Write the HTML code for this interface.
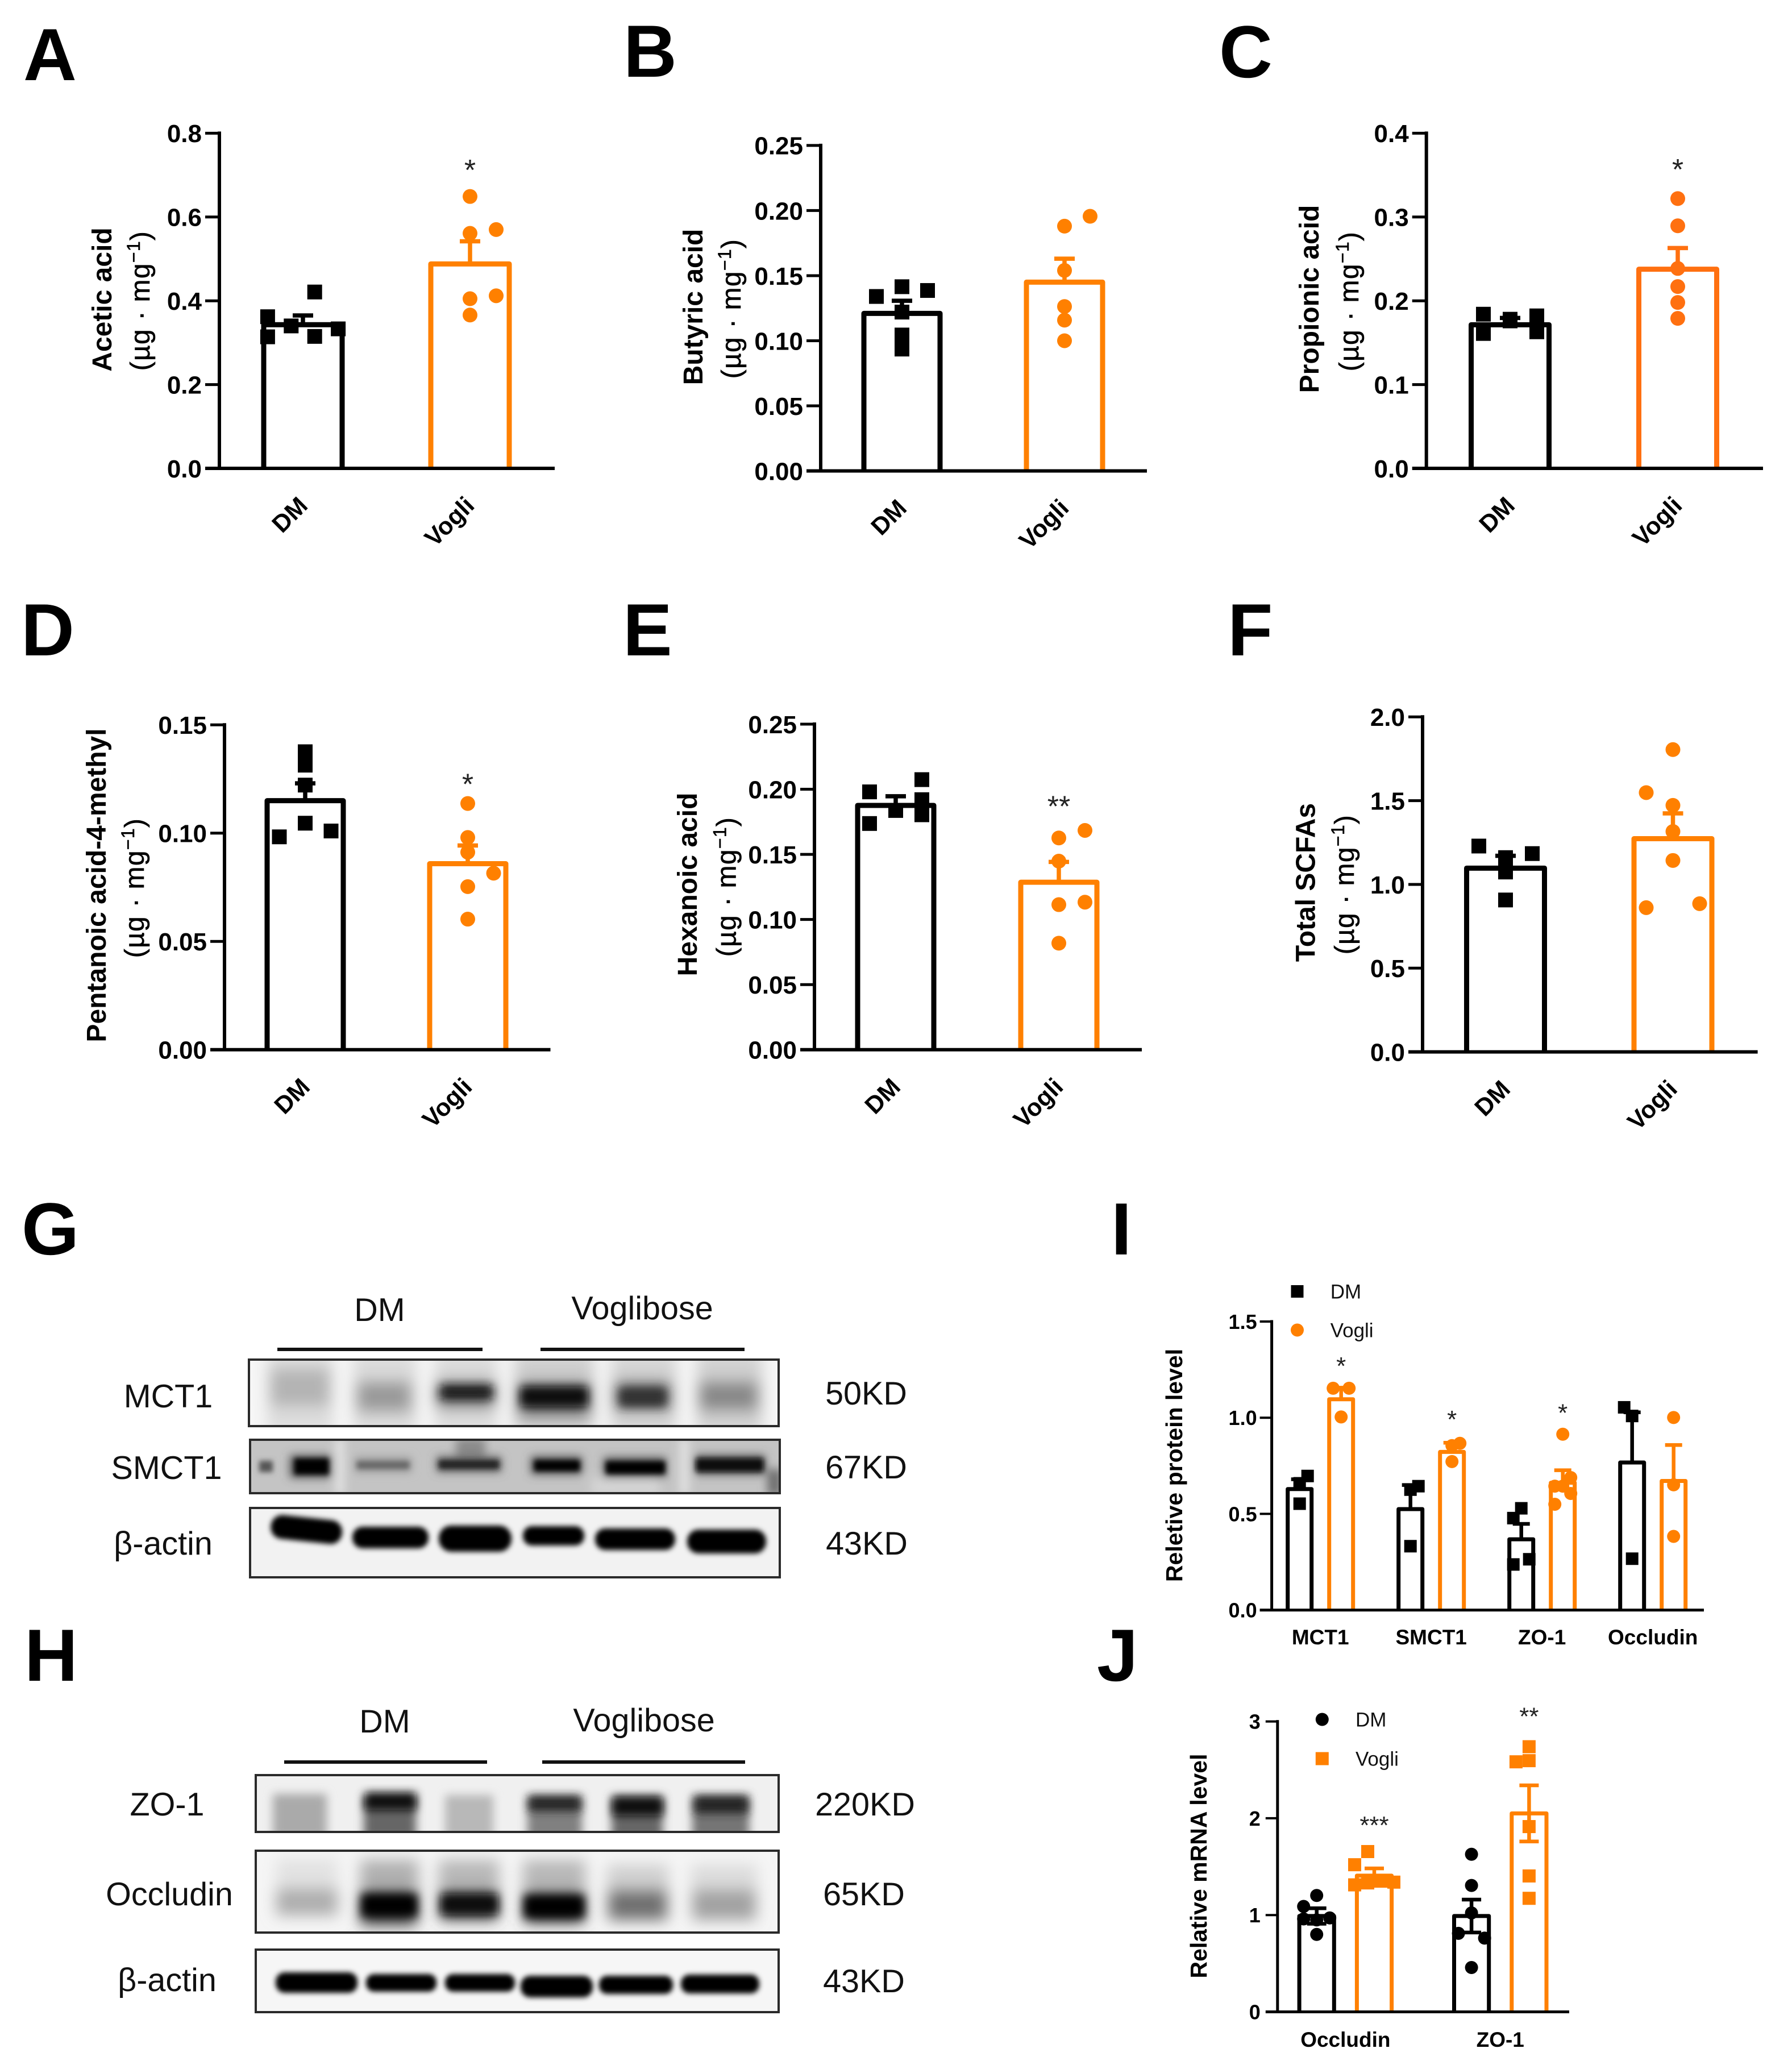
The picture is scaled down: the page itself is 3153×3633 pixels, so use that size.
<!DOCTYPE html>
<html lang="en">
<head>
<meta charset="utf-8">
<title>SCFA bar charts and western blots</title>
<style>
html,body{margin:0;padding:0;background:#fff;}
svg{display:block;font-family:"Liberation Sans",Arial,sans-serif;}
.letter{font-size:130px;font-weight:700;fill:#000;}
.wb{font-size:57.5px;fill:#111;}
</style>
</head>
<body>
<svg id="figure" xmlns="http://www.w3.org/2000/svg" width="3153" height="3633" viewBox="0 0 3153 3633">
<defs>
<filter id="b4" x="-15%" y="-40%" width="130%" height="180%"><feGaussianBlur stdDeviation="4.5"/></filter>
<filter id="b7" x="-15%" y="-40%" width="130%" height="180%"><feGaussianBlur stdDeviation="8"/></filter>
<filter id="b12" x="-15%" y="-40%" width="130%" height="180%"><feGaussianBlur stdDeviation="13"/></filter>
<clipPath id="c1"><rect x="438" y="2392" width="932" height="117"/></clipPath>
<clipPath id="c2"><rect x="440" y="2533" width="932" height="94"/></clipPath>
<clipPath id="c3"><rect x="440" y="2653" width="932" height="122"/></clipPath>
<clipPath id="c4"><rect x="450" y="3123" width="920" height="100"/></clipPath>
<clipPath id="c5"><rect x="450" y="3256" width="920" height="144"/></clipPath>
<clipPath id="c6"><rect x="450" y="3430" width="920" height="110"/></clipPath>
</defs>
<rect width="3153" height="3633" fill="#fff"/>

<g>
<text class="letter" x="41" y="141">A</text>
<text class="letter" x="1097" y="135">B</text>
<text class="letter" x="2145" y="136">C</text>
<text class="letter" x="37" y="1153">D</text>
<text class="letter" x="1096" y="1153">E</text>
<text class="letter" x="2160" y="1153">F</text>
<text class="letter" x="38" y="2207">G</text>
<text class="letter" x="43" y="2957">H</text>
<text class="letter" x="1955" y="2207">I</text>
<text class="letter" x="1930" y="2957">J</text>
</g>

<g>
<text class="wb" x="668" y="2324" text-anchor="middle">DM</text>
<text class="wb" x="1130" y="2321" text-anchor="middle">Voglibose</text>
<rect x="488" y="2371" width="361" height="6" fill="#111"/>
<rect x="951" y="2371" width="359" height="6" fill="#111"/>
<text class="wb" x="296" y="2476" text-anchor="middle">MCT1</text>
<text class="wb" x="293" y="2602" text-anchor="middle">SMCT1</text>
<text class="wb" x="287" y="2735" text-anchor="middle">β-actin</text>
<text class="wb" x="1524" y="2471" text-anchor="middle">50KD</text>
<text class="wb" x="1524" y="2601" text-anchor="middle">67KD</text>
<text class="wb" x="1525" y="2735" text-anchor="middle">43KD</text>

<g>
<rect x="438" y="2392" width="932" height="117" fill="#f6f6f6"/>
<g clip-path="url(#c1)"><g filter="url(#b12)">
<rect x="470" y="2380" width="116" height="140" fill="#dcdcdc"/>
<rect x="622" y="2380" width="110" height="140" fill="#dadada"/>
<rect x="765" y="2380" width="110" height="140" fill="#dadada"/>
<rect x="905" y="2380" width="140" height="140" fill="#cecece"/>
<rect x="1075" y="2380" width="115" height="140" fill="#d4d4d4"/>
<rect x="1226" y="2380" width="115" height="140" fill="#d0d0d0"/>
<rect x="476" y="2408" width="104" height="66" fill="#b4b4b4"/>
<rect x="628" y="2430" width="96" height="54" fill="#9a9a9a"/>
<rect x="1230" y="2430" width="104" height="52" fill="#888"/>
<rect x="768" y="2430" width="102" height="46" fill="#5c5c5c"/>
<rect x="912" y="2432" width="126" height="60" fill="#555"/>
<rect x="1082" y="2430" width="98" height="52" fill="#606060"/>
</g><g filter="url(#b7)">
<rect x="776" y="2438" width="90" height="22" fill="#141414"/>
<rect x="916" y="2440" width="118" height="34" fill="#0e0e0e"/>
<rect x="1090" y="2442" width="82" height="32" fill="#333"/>
</g></g>
<rect x="438" y="2392" width="932" height="117" fill="none" stroke="#2a2a2a" stroke-width="4"/>
</g>

<g>
<rect x="440" y="2533" width="932" height="94" fill="#c4c4c4"/>
<g clip-path="url(#c2)"><g filter="url(#b7)">
<rect x="590" y="2530" width="16" height="100" fill="#e2e2e2"/>
<rect x="1196" y="2530" width="16" height="100" fill="#e2e2e2"/>
<rect x="1040" y="2600" width="120" height="30" fill="#d4d4d4"/>
<rect x="802" y="2530" width="52" height="44" fill="#8a8a8a"/>
<rect x="1350" y="2585" width="26" height="46" fill="#707070"/>
<rect x="510" y="2560" width="74" height="40" fill="#555"/>
<rect x="624" y="2564" width="100" height="26" fill="#9a9a9a"/>
<rect x="768" y="2562" width="114" height="28" fill="#666"/>
<rect x="934" y="2562" width="90" height="32" fill="#555"/>
<rect x="1062" y="2564" width="110" height="36" fill="#555"/>
<rect x="1222" y="2560" width="124" height="34" fill="#555"/>
</g><g filter="url(#b4)">
<rect x="456" y="2570" width="24" height="20" fill="#555"/>
<rect x="518" y="2566" width="60" height="28" fill="#050505"/>
<rect x="628" y="2571" width="92" height="13" fill="#666"/>
<rect x="772" y="2569" width="106" height="15" fill="#222"/>
<rect x="940" y="2569" width="80" height="19" fill="#050505"/>
<rect x="1066" y="2571" width="104" height="22" fill="#050505"/>
<rect x="1225" y="2566" width="118" height="23" fill="#0c0c0c"/>
</g></g>
<rect x="440" y="2533" width="932" height="94" fill="none" stroke="#2a2a2a" stroke-width="4"/>
</g>

<g>
<rect x="440" y="2653" width="932" height="122" fill="#f2f2f2"/>
<g clip-path="url(#c3)"><g filter="url(#b4)">
<rect x="476" y="2670" width="126" height="42" rx="20" fill="#000" transform="rotate(6 540 2693)"/>
<rect x="620" y="2686" width="134" height="38" rx="18" fill="#050505"/>
<rect x="772" y="2684" width="128" height="46" rx="22" fill="#000"/>
<rect x="920" y="2685" width="108" height="34" rx="16" fill="#050505"/>
<rect x="1047" y="2689" width="141" height="38" rx="18" fill="#000"/>
<rect x="1209" y="2691" width="139" height="42" rx="20" fill="#000"/>
</g></g>
<rect x="440" y="2653" width="932" height="122" fill="none" stroke="#2a2a2a" stroke-width="4"/>
</g>
</g>

<g>
<text class="wb" x="677" y="3048" text-anchor="middle">DM</text>
<text class="wb" x="1133" y="3046" text-anchor="middle">Voglibose</text>
<rect x="500" y="3097" width="357" height="6" fill="#111"/>
<rect x="954" y="3097" width="357" height="6" fill="#111"/>
<text class="wb" x="294" y="3194" text-anchor="middle">ZO-1</text>
<text class="wb" x="298" y="3352" text-anchor="middle">Occludin</text>
<text class="wb" x="294" y="3503" text-anchor="middle">β-actin</text>
<text class="wb" x="1522" y="3194" text-anchor="middle">220KD</text>
<text class="wb" x="1520" y="3352" text-anchor="middle">65KD</text>
<text class="wb" x="1520" y="3505" text-anchor="middle">43KD</text>

<g>
<rect x="450" y="3123" width="920" height="100" fill="#f0f0f0"/>
<g clip-path="url(#c4)"><g filter="url(#b7)">
<rect x="480" y="3156" width="95" height="80" fill="#aaa"/>
<rect x="640" y="3160" width="92" height="76" fill="#666"/>
<rect x="783" y="3158" width="85" height="78" fill="#b8b8b8"/>
<rect x="928" y="3160" width="96" height="76" fill="#808080"/>
<rect x="1076" y="3160" width="90" height="76" fill="#666"/>
<rect x="1218" y="3160" width="100" height="76" fill="#757575"/>
</g><g filter="url(#b7)">
<rect x="642" y="3154" width="90" height="30" fill="#111"/>
<rect x="930" y="3160" width="92" height="26" fill="#222"/>
<rect x="1078" y="3162" width="88" height="32" fill="#0a0a0a"/>
<rect x="1222" y="3160" width="94" height="30" fill="#222"/>
</g></g>
<rect x="450" y="3123" width="920" height="100" fill="none" stroke="#2a2a2a" stroke-width="4"/>
</g>

<g>
<rect x="450" y="3256" width="920" height="144" fill="#f5f5f5"/>
<g clip-path="url(#c5)"><g filter="url(#b12)">
<rect x="486" y="3270" width="108" height="70" fill="#e2e2e2"/>
<rect x="634" y="3272" width="102" height="70" fill="#b0b0b0"/>
<rect x="772" y="3272" width="106" height="70" fill="#b8b8b8"/>
<rect x="920" y="3272" width="110" height="70" fill="#b8b8b8"/>
<rect x="1068" y="3280" width="108" height="70" fill="#d0d0d0"/>
<rect x="1216" y="3280" width="116" height="70" fill="#dcdcdc"/>
<rect x="486" y="3322" width="108" height="48" fill="#aeaeae"/>
<rect x="1070" y="3324" width="104" height="54" fill="#707070"/>
<rect x="1218" y="3324" width="112" height="54" fill="#a2a2a2"/>
<rect x="634" y="3326" width="100" height="62" fill="#444"/>
<rect x="774" y="3326" width="102" height="52" fill="#444"/>
<rect x="922" y="3328" width="106" height="56" fill="#444"/>
</g><g filter="url(#b7)">
<rect x="636" y="3332" width="98" height="40" fill="#050505"/>
<rect x="776" y="3332" width="100" height="36" fill="#080808"/>
<rect x="922" y="3334" width="106" height="40" fill="#000"/>
</g></g>
<rect x="450" y="3256" width="920" height="144" fill="none" stroke="#2a2a2a" stroke-width="4"/>
</g>

<g>
<rect x="450" y="3430" width="920" height="110" fill="#f6f6f6"/>
<g clip-path="url(#c6)"><g filter="url(#b4)">
<rect x="485" y="3470" width="144" height="36" rx="16" fill="#000"/>
<rect x="644" y="3473" width="124" height="31" rx="14" fill="#050505"/>
<rect x="783" y="3473" width="123" height="31" rx="14" fill="#050505"/>
<rect x="916" y="3476" width="127" height="38" rx="17" fill="#000"/>
<rect x="1054" y="3476" width="130" height="32" rx="14" fill="#000"/>
<rect x="1198" y="3474" width="138" height="33" rx="15" fill="#000"/>
</g></g>
<rect x="450" y="3430" width="920" height="110" fill="none" stroke="#2a2a2a" stroke-width="4"/>
</g>
</g>

<g id="charts"></g>
</svg>

<script>
// ---------- shared categories ----------
const scfaGroups = ['DM', 'Vogli'];
const blotSeries = ['DM', 'Vogli'];

// ---------- panel A: acetic acid ----------
const aceticTicks = ['0.0', '0.2', '0.4', '0.6', '0.8'];
const aceticMeans = [0.343, 0.488];
const aceticSems = [0.022, 0.054];
const aceticDm = [0.362, 0.314, 0.340, 0.421, 0.315, 0.333];
const aceticDmSlots = [-1.35, -1.35, -0.45, 0.45, 0.45, 1.35];
const aceticVogli = [0.649, 0.561, 0.570, 0.405, 0.412, 0.366];
const aceticVogliSlots = [0, 0, 1, 0, 1, 0];
const aceticStars = ['', '*'];
const aceticStarLevels = [0, 0.723];

// ---------- panel B: butyric acid ----------
const butyricTicks = ['0.00', '0.05', '0.10', '0.15', '0.20', '0.25'];
const butyricMeans = [0.121, 0.145];
const butyricSems = [0.0097, 0.018];
const butyricDm = [0.134, 0.1415, 0.1386, 0.122, 0.1044, 0.0936];
const butyricDmSlots = [-1, 0, 1, 0, 0, 0];
const butyricVogli = [0.188, 0.1956, 0.154, 0.1263, 0.1158, 0.100];
const butyricVogliSlots = [0, 1, 0, 0, 0, 0];
const butyricStars = ['', ''];
const butyricStarLevels = [0, 0];

// ---------- panel C: propionic acid ----------
const propionicTicks = ['0.0', '0.1', '0.2', '0.3', '0.4'];
const propionicMeans = [0.1714, 0.2377];
const propionicSems = [0.0081, 0.0253];
const propionicDm = [0.184, 0.161, 0.176, 0.178, 0.182, 0.163];
const propionicDmSlots = [-1, -1, 0, 0, 1, 1];
const propionicVogli = [0.322, 0.2895, 0.2386, 0.217, 0.198, 0.179];
const propionicVogliSlots = [0, 0, 0, 0, 0, 0];
const propionicStars = ['', '*'];
const propionicStarLevels = [0, 0.362];

// ---------- panel D: pentanoic acid-4-methyl ----------
const pentanoicTicks = ['0.00', '0.05', '0.10', '0.15'];
const pentanoicMeans = [0.115, 0.0859];
const pentanoicSems = [0.008, 0.0084];
const pentanoicDm = [0.1376, 0.1314, 0.1222, 0.0983, 0.1046, 0.101];
const pentanoicDmSlots = [0, 0, 0, -1, 0, 1];
const pentanoicVogli = [0.1137, 0.098, 0.0912, 0.0815, 0.0753, 0.0603];
const pentanoicVogliSlots = [0, 0, 0, 1, 0, 0];
const pentanoicStars = ['', '*'];
const pentanoicStarLevels = [0, 0.1247];

// ---------- panel E: hexanoic acid ----------
const hexanoicTicks = ['0.00', '0.05', '0.10', '0.15', '0.20', '0.25'];
const hexanoicMeans = [0.1876, 0.1286];
const hexanoicSems = [0.007, 0.0156];
const hexanoicDm = [0.198, 0.1737, 0.1837, 0.2074, 0.192, 0.1804];
const hexanoicDmSlots = [-1, -1, 0, 1, 1, 1];
const hexanoicVogli = [0.1626, 0.1684, 0.1448, 0.1114, 0.1133, 0.0818];
const hexanoicVogliSlots = [0, 1, 0, 0, 1, 0];
const hexanoicStars = ['', '**'];
const hexanoicStarLevels = [0, 0.1902];

// ---------- panel F: total SCFAs ----------
const totalTicks = ['0.0', '0.5', '1.0', '1.5', '2.0'];
const totalMeans = [1.097, 1.273];
const totalSems = [0.074, 0.151];
const totalDm = [1.229, 1.16, 1.184, 1.128, 1.074, 0.907];
const totalDmSlots = [-1, 0, 1, 0, 0, 0];
const totalVogli = [1.805, 1.548, 1.472, 1.316, 1.143, 0.861, 0.885];
const totalVogliSlots = [0, -1, 0, 0, 0, -1, 1];
const totalStars = ['', ''];
const totalStarLevels = [0, 0];

// ---------- panel I: relative protein level ----------
const proteinGroups = ['MCT1', 'SMCT1', 'ZO-1', 'Occludin'];
const proteinTicks = ['0.0', '0.5', '1.0', '1.5'];
const proteinDmMeans = [0.629, 0.525, 0.368, 0.767];
const proteinDmSems = [0.051, 0.125, 0.08, 0.261];
const proteinVogliMeans = [1.096, 0.822, 0.662, 0.671];
const proteinVogliSems = [0.06, 0.048, 0.065, 0.187];
const proteinDmPoints = [[0.697, 0.659, 0.553], [0.644, 0.626, 0.332], [0.529, 0.478, 0.264, 0.237], [1.054, 1.009, 0.267]];
const proteinDmSlots = [[1, 0, 0], [1, 0, 0], [0, -1, 1, -1], [-1, 0, 0]];
const proteinVogliPoints = [[1.153, 1.153, 1.004], [0.867, 0.855, 0.772], [0.914, 0.689, 0.644, 0.606, 0.55, 0.644], [1.001, 0.651, 0.383]];
const proteinVogliSlots = [[-1, 1, 0], [1, 0, 0], [0, 1, 0, 1, -1, -1], [0, 0, 0]];
const proteinStars = ['*', '*', '*', ''];
const proteinStarLevels = [1.287, 1.009, 1.043, 0];

// ---------- panel J: relative mRNA level ----------
const mrnaGroups = ['Occludin', 'ZO-1'];
const mrnaTicks = ['0', '1', '2', '3'];
const mrnaDmMeans = [0.99, 0.99];
const mrnaDmSems = [0.08, 0.17];
const mrnaVogliMeans = [1.407, 2.05];
const mrnaVogliSems = [0.075, 0.29];
const mrnaDmPoints = [[1.202, 1.089, 0.97, 0.95, 0.96, 0.8], [1.628, 1.306, 1.022, 0.811, 0.762, 0.458]];
const mrnaDmSlots = [[0, -1, 1, 0, -1, 0], [0, 0, 0, -1, 1, 0]];
const mrnaVogliPoints = [[1.656, 1.52, 1.312, 1.332, 1.35, 1.34], [2.739, 2.583, 2.595, 1.914, 1.404, 1.173]];
const mrnaVogliSlots = [[-0.5, -1.5, -1.5, -0.5, 0.5, 1.5], [0, -1, 0, 0, 0, 0]];
const mrnaStars = ['***', '**'];
const mrnaStarLevels = [1.964, 3.09];

const SVG_NS = 'http://www.w3.org/2000/svg';
const ORANGE = '#ff8000';
const root = document.getElementById('charts');

function el(tag, attrs, parent) {
  const node = document.createElementNS(SVG_NS, tag);
  for (const k in attrs) node.setAttribute(k, attrs[k]);
  parent.appendChild(node);
  return node;
}

function drawMarker(kind, cx, cy, color, size, radius, parent, seriesName) {
  let m;
  if (kind === 'square') {
    m = el('rect', { x: cx - size / 2, y: cy - size / 2, width: size, height: size, fill: color }, parent);
  } else {
    m = el('circle', { cx: cx, cy: cy, r: radius, fill: color }, parent);
  }
  
  
}

function drawLegend(p, g) {
  p.legend.forEach(function (item) {
    const row = el('g', {}, g);
    
    
    drawMarker(item.marker, item.mx, item.y, item.color, p.squareSize, p.dotR, row, 'legend');
    const t = el('text', { x: item.tx, y: item.y + 12.5, 'font-size': 35, fill: '#111' }, row);
    t.textContent = item.label;
    
    
  });
}

function drawChart(p) {
  const g = el('g', {}, root);
  
  

  const yMax = parseFloat(p.ticks[p.ticks.length - 1]);
  const yScale = function (v) { return p.y0 - (v / yMax) * (p.y0 - p.yTop); };
  const xScale = function (group, series) { return p.firstX + group * p.groupStep + series * p.seriesStep; };

  // y axis
  const yAxis = el('line', { x1: p.axisX, x2: p.axisX, y1: p.yTop - p.axisW / 2, y2: p.y0, stroke: '#000', 'stroke-width': p.axisW }, g);
  
  

  // ticks and labels
  p.ticks.forEach(function (label) {
    const v = parseFloat(label);
    if (v > 0) {
      const tick = el('line', { x1: p.axisX - p.tickLen, x2: p.axisX, y1: yScale(v), y2: yScale(v), stroke: '#000', 'stroke-width': p.axisW - 1 }, g);
      
      
    }
    const t = el('text', { x: p.axisX - p.labelGap, y: yScale(v) + p.tickFont * 0.36, 'text-anchor': 'end', 'font-size': p.tickFont, 'font-weight': 700, fill: '#000' }, g);
    t.textContent = label;
    
    
  });

  // y title
  const title = el('text', { transform: 'translate(' + p.titleX + ' ' + p.titleY + ') rotate(-90)', 'text-anchor': 'middle', 'font-size': p.titleFont, 'font-weight': 700, fill: '#000' }, g);
  title.textContent = p.title;
  
  

  if (p.unitX) {
    const unit = el('text', { transform: 'translate(' + p.unitX + ' ' + p.unitY + ') rotate(-90)', 'text-anchor': 'middle', 'font-size': 48, fill: '#000', stroke: '#000', 'stroke-width': 0.6, 'letter-spacing': 1.3 }, g);
    
    
    const a = el('tspan', {}, unit);
    a.textContent = '(µg · mg';
    const b = el('tspan', { dy: -17, 'font-size': 32, 'font-weight': 400 }, unit);
    b.textContent = '−1';
    const c = el('tspan', { dy: 17 }, unit);
    c.textContent = ')';
  }

  // bars, error bars, points
  p.groups.forEach(function (groupLabel, gi) {
    p.series.forEach(function (s, si) {
      const cx = xScale(gi, si);
      const barG = el('g', {}, g);
      
      

      const mean = s.means[gi];
      const top = yScale(mean);
      const bar = el('path', {
        d: 'M' + (cx - p.barHalf) + ' ' + p.y0 + 'V' + top + 'H' + (cx + p.barHalf) + 'V' + p.y0,
        fill: 'none', stroke: s.color, 'stroke-width': p.barW, 'stroke-linejoin': 'round'
      }, barG);
      
      

      const sem = s.sems[gi];
      const upper = yScale(mean + sem);
      const lower = p.bothCaps ? yScale(mean - sem) : top;
      const stem = el('line', { x1: cx, x2: cx, y1: upper, y2: lower, stroke: s.color, 'stroke-width': p.errW }, barG);
      
      
      const cap = el('line', { x1: cx - p.capHalf, x2: cx + p.capHalf, y1: upper, y2: upper, stroke: s.color, 'stroke-width': p.errW }, barG);
      
      
      if (p.bothCaps) {
        const cap2 = el('line', { x1: cx - p.capHalf, x2: cx + p.capHalf, y1: lower, y2: lower, stroke: s.color, 'stroke-width': p.errW }, barG);
        
        
      }

      s.points[gi].forEach(function (v, i) {
        drawMarker(s.marker, cx + s.slots[gi][i] * p.slotUnit, yScale(v), s.color, p.squareSize, p.dotR, barG, s.key);
      });
    });

    const star = p.stars[gi];
    if (star) {
      const cx = xScale(gi, 1);
      const st = el('text', { x: cx, y: yScale(p.starLevels[gi]) + p.starFont * 0.57 - 4, 'text-anchor': 'middle', 'font-size': p.starFont, fill: '#222' }, g);
      st.textContent = star;
      
      
    }

    if (p.rotateLabels === false) {
      const mid = (xScale(gi, 0) + xScale(gi, 1)) / 2;
      const xl = el('text', { x: mid, y: p.xLabelY, 'text-anchor': 'middle', 'font-size': 37, 'font-weight': 700, fill: '#000' }, g);
      xl.textContent = groupLabel;
      
      
    }
  });

  // rotated category labels for the two-bar panels
  if (p.rotateLabels !== false) {
    p.labels.forEach(function (label, i) {
      const cx = xScale(0, i);
      const lx = (i === 0 ? cx - 21 : cx - 34) + 8;
      const ly = p.y0 + (i === 0 ? 78 : 90);
      const xl = el('text', { transform: 'translate(' + lx + ' ' + (ly + 14) + ') rotate(-45)', 'text-anchor': 'middle', 'font-size': 43, 'font-weight': 700, fill: '#000' }, g);
      xl.textContent = label;
      
      
    });
  }

  // x axis
  const xAxis = el('line', { x1: p.axisX - p.tickLen, x2: p.xEnd, y1: p.y0, y2: p.y0, stroke: '#000', 'stroke-width': p.axisW }, g);
  
  

  if (p.legend) drawLegend(p, g);
}

function twoBarPanel(o) {
  const gap = o.cx2 - o.cx1;
  return {
    name: o.name, title: o.title, titleX: o.titleX, titleY: o.titleY, titleFont: 48,
    unitX: o.unitX, unitY: o.unitY,
    ticks: o.ticks, axisX: o.axisX, y0: o.y0, yTop: o.yTop, xEnd: o.xEnd,
    axisW: 6, tickLen: 25, labelGap: 31, tickFont: 44,
    firstX: o.cx1, groupStep: 0, seriesStep: gap,
    barHalf: o.barHalf, barW: 9, errW: 7.5, capHalf: 18,
    squareSize: 26, dotR: 13, slotUnit: o.slotUnit,
    groups: [''],
    labels: scfaGroups,
    stars: [o.stars[1]], starLevels: [o.starLevels[1]], starFont: 52,
    series: [
      { key: 'dm', color: '#000', marker: 'square', means: [o.means[0]], sems: [o.sems[0]], points: [o.dm], slots: [o.dmSlots] },
      { key: 'vogli', color: o.vogliColor || ORANGE, marker: 'circle', means: [o.means[1]], sems: [o.sems[1]], points: [o.vogli], slots: [o.vogliSlots] }
    ]
  };
}

drawChart(twoBarPanel({ name: 'chart-acetic-acid', title: 'Acetic acid', titleX: 196, titleY: 527, unitX: 263, unitY: 529,
  ticks: aceticTicks, axisX: 386, y0: 824, yTop: 234.4, xEnd: 976, cx1: 533, cx2: 827, barHalf: 69, slotUnit: 46,
  means: aceticMeans, sems: aceticSems, dm: aceticDm, dmSlots: aceticDmSlots, vogli: aceticVogli, vogliSlots: aceticVogliSlots, stars: aceticStars, starLevels: aceticStarLevels }));

drawChart(twoBarPanel({ name: 'chart-butyric-acid', title: 'Butyric acid', titleX: 1236, titleY: 540, unitX: 1303, unitY: 543,
  ticks: butyricTicks, axisX: 1444, y0: 828.5, yTop: 255.9, xEnd: 2018, cx1: 1587, cx2: 1873, barHalf: 67, slotUnit: 45,
  means: butyricMeans, sems: butyricSems, dm: butyricDm, dmSlots: butyricDmSlots, vogli: butyricVogli, vogliSlots: butyricVogliSlots, stars: butyricStars, starLevels: butyricStarLevels }));

drawChart(twoBarPanel({ name: 'chart-propionic-acid', title: 'Propionic acid', titleX: 2320, titleY: 526, unitX: 2390, unitY: 530, vogliColor: '#ff7010',
  ticks: propionicTicks, axisX: 2509.7, y0: 824, yTop: 234.4, xEnd: 3102, cx1: 2657, cx2: 2952, barHalf: 68.5, slotUnit: 47,
  means: propionicMeans, sems: propionicSems, dm: propionicDm, dmSlots: propionicDmSlots, vogli: propionicVogli, vogliSlots: propionicVogliSlots, stars: propionicStars, starLevels: propionicStarLevels }));

drawChart(twoBarPanel({ name: 'chart-pentanoic-acid', title: 'Pentanoic acid-4-methyl', titleX: 186, titleY: 1557.5, unitX: 253, unitY: 1562,
  ticks: pentanoicTicks, axisX: 395, y0: 1846.8, yTop: 1275.3, xEnd: 968.5, cx1: 537, cx2: 823, barHalf: 67, slotUnit: 45.5,
  means: pentanoicMeans, sems: pentanoicSems, dm: pentanoicDm, dmSlots: pentanoicDmSlots, vogli: pentanoicVogli, vogliSlots: pentanoicVogliSlots, stars: pentanoicStars, starLevels: pentanoicStarLevels }));

drawChart(twoBarPanel({ name: 'chart-hexanoic-acid', title: 'Hexanoic acid', titleX: 1226, titleY: 1556, unitX: 1294.5, unitY: 1560,
  ticks: hexanoicTicks, axisX: 1433, y0: 1846.8, yTop: 1274, xEnd: 2009, cx1: 1576, cx2: 1863, barHalf: 67, slotUnit: 46,
  means: hexanoicMeans, sems: hexanoicSems, dm: hexanoicDm, dmSlots: hexanoicDmSlots, vogli: hexanoicVogli, vogliSlots: hexanoicVogliSlots, stars: hexanoicStars, starLevels: hexanoicStarLevels }));

drawChart(twoBarPanel({ name: 'chart-total-scfas', title: 'Total SCFAs', titleX: 2313.5, titleY: 1552.5, unitX: 2382, unitY: 1556,
  ticks: totalTicks, axisX: 2503, y0: 1850.6, yTop: 1261.3, xEnd: 3092.6, cx1: 2649, cx2: 2943.5, barHalf: 68.5, slotUnit: 47,
  means: totalMeans, sems: totalSems, dm: totalDm, dmSlots: totalDmSlots, vogli: totalVogli, vogliSlots: totalVogliSlots, stars: totalStars, starLevels: totalStarLevels }));

drawChart({
  name: 'chart-protein-level', title: 'Reletive protein level', titleX: 2080, titleY: 2578, titleFont: 41,
  ticks: proteinTicks, axisX: 2237.6, y0: 2832.6, yTop: 2325, xEnd: 2998,
  axisW: 5, tickLen: 21, labelGap: 26, tickFont: 36,
  firstX: 2286.7, groupStep: 195, seriesStep: 73,
  barHalf: 21, barW: 7, errW: 6.5, capHalf: 15,
  squareSize: 22, dotR: 11.5, slotUnit: 14,
  groups: proteinGroups, rotateLabels: false, xLabelY: 2893,
  stars: proteinStars, starLevels: proteinStarLevels, starFont: 44,
  series: [
    { key: 'dm', color: '#000', marker: 'square', means: proteinDmMeans, sems: proteinDmSems, points: proteinDmPoints, slots: proteinDmSlots },
    { key: 'vogli', color: ORANGE, marker: 'circle', means: proteinVogliMeans, sems: proteinVogliSems, points: proteinVogliPoints, slots: proteinVogliSlots }
  ],
  legend: [
    { label: blotSeries[0], marker: 'square', color: '#000', mx: 2282.5, tx: 2340.7, y: 2272 },
    { label: blotSeries[1], marker: 'circle', color: ORANGE, mx: 2282.5, tx: 2340.7, y: 2340 }
  ]
});

drawChart({
  name: 'chart-mrna-level', title: 'Relative mRNA level', titleX: 2123, titleY: 3283, titleFont: 41,
  ticks: mrnaTicks, axisX: 2247.8, y0: 3539.5, yTop: 3028.6, xEnd: 2761,
  axisW: 5, tickLen: 21, labelGap: 30, tickFont: 36,
  firstX: 2316.7, groupStep: 272.4, seriesStep: 101.3,
  barHalf: 30.6, barW: 7, errW: 6.5, capHalf: 17,
  squareSize: 23, dotR: 11.5, slotUnit: 23, bothCaps: true,
  groups: mrnaGroups, rotateLabels: false, xLabelY: 3601,
  stars: mrnaStars, starLevels: mrnaStarLevels, starFont: 44,
  series: [
    { key: 'dm', color: '#000', marker: 'circle', means: mrnaDmMeans, sems: mrnaDmSems, points: mrnaDmPoints, slots: mrnaDmSlots },
    { key: 'vogli', color: ORANGE, marker: 'square', means: mrnaVogliMeans, sems: mrnaVogliSems, points: mrnaVogliPoints, slots: mrnaVogliSlots }
  ],
  legend: [
    { label: blotSeries[0], marker: 'circle', color: '#000', mx: 2326.3, tx: 2385, y: 3025 },
    { label: blotSeries[1], marker: 'square', color: ORANGE, mx: 2326.3, tx: 2385, y: 3094 }
  ]
});
</script>
</body>
</html>
